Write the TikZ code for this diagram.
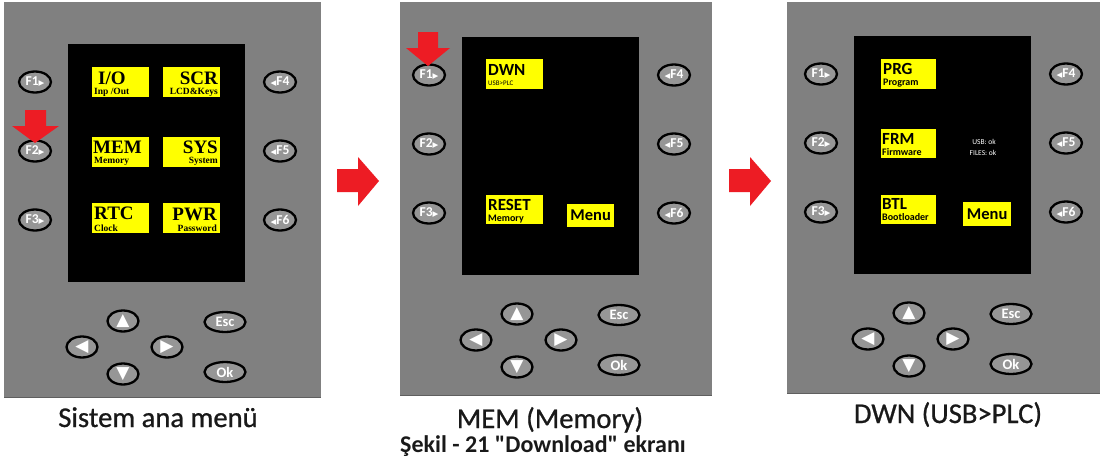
\documentclass[tikz,border=0pt]{standalone}
\usepackage{fontspec}
\setmainfont{Carlito}
\newfontfamily\tnr{Liberation Serif}
\newfontfamily\dju{DejaVu Sans}
\newfontfamily\capfont[FakeBold=0.8]{Carlito}
\newfontfamily\capbfont[Ligatures=TeXOff]{Carlito}
\usetikzlibrary{shapes.geometric}
\definecolor{panelgray}{RGB}{128,128,128}
\definecolor{paneledge}{RGB}{95,95,95}
\definecolor{btnfill}{RGB}{150,150,150}
\definecolor{lcdyellow}{RGB}{255,255,0}
\definecolor{arrowred}{RGB}{237,28,36}
\definecolor{captext}{RGB}{25,25,25}
\newcommand\fsz[1]{\fontsize{#1}{#1}\selectfont}
\newcommand\rtri{{\dju\fsz{7.5}▶}}
\newcommand\ltri{{\dju\fsz{7.5}◀}}
\newcommand\devpanel[3]{%
\begin{scope}[shift={(#2,#3)}]
\node[screen] (#1scr) at (68,44) {};
\node[fbtn] (#1F1) at (35,82) {F1\rtri};
\node[fbtn] (#1F2) at (35,151) {F2\rtri};
\node[fbtn] (#1F3) at (35,220) {F3\rtri};
\node[fbtn] (#1F4) at (280,82) {\ltri F4};
\node[fbtn] (#1F5) at (280,151) {\ltri F5};
\node[fbtn] (#1F6) at (280,220) {\ltri F6};
\node[navbtn] (#1up) at (123,321) {▲};
\node[navbtn] (#1left) at (82,347) {◀};
\node[navbtn] (#1right) at (167,347) {▶};
\node[navbtn] (#1down) at (123,374) {▼};
\node[kbtn] (#1esc) at (225,322) {Esc};
\node[kbtn] (#1ok) at (225,372) {Ok};
\end{scope}}
\begin{document}
\begin{tikzpicture}[x=1pt,y=-1pt,
  screen/.style={fill=black, draw=none, inner sep=0pt, anchor=north west, minimum width=177pt, minimum height=238pt},
  fbtn/.style={ellipse, draw=black, line width=2.3pt, fill=btnfill, minimum width=32pt, minimum height=21pt, inner sep=0pt, text=white, font=\bfseries\fsz{13.5}},
  navbtn/.style={ellipse, draw=black, line width=2.3pt, fill=btnfill, minimum width=31pt, minimum height=21pt, inner sep=0pt, text=white, font=\dju\fsz{17}},
  kbtn/.style={ellipse, draw=black, line width=2.3pt, fill=btnfill, minimum width=41pt, minimum height=20pt, inner sep=0pt, text=white, font=\bfseries\fsz{14.5}},
  ybx/.style={fill=lcdyellow, draw=none, inner sep=0pt, anchor=north west},
  sbig/.style={inner sep=0pt, text=black, font=\tnr\bfseries\fsz{19}},
  ssmall/.style={inner sep=0pt, text=black, font=\tnr\bfseries\fsz{9.5}},
  fbig/.style={inner sep=0pt, text=black, font=\bfseries\fsz{17}},
  fsmall/.style={inner sep=0pt, text=black, font=\bfseries\fsz{10}},
  ftiny/.style={inner sep=0pt, text=black, font=\fsz{7}},
  status/.style={inner sep=0pt, text=white, font=\fsz{7.5}},
  captxt/.style={inner sep=0pt, text=captext, font=\capfont\fsz{28.6}, anchor=base},
  captxtb/.style={inner sep=0pt, text=captext, font=\capbfont\bfseries\fsz{24}, anchor=base},
  redarrow/.style={fill=arrowred, draw=none}
]
\useasboundingbox (0,0) rectangle (1101,466);
\fill[white] (0,0) rectangle (1101,466);
% device bodies
\fill[panelgray] (4,2) rectangle (321,398);
\draw[paneledge, line width=1.5pt] (4,397.5) -- (321,397.5);
\fill[panelgray] (400,2) rectangle (712,396);
\draw[paneledge, line width=1.5pt] (400,395.5) -- (712,395.5);
\fill[panelgray] (787,2) rectangle (1100,394);
\draw[paneledge, line width=1.5pt] (787,393.5) -- (1100,393.5);
\devpanel{a}{0}{0}
\devpanel{b}{394}{-7}
\devpanel{c}{786}{-8}
% panel 1 screen
\node[ybx, minimum width=57pt, minimum height=30pt] (io) at (92,67) {};
\node[sbig, anchor=base west] (io-t) at (98,84) {I/O};
\node[ssmall, anchor=base west] (io-s) at (94,94) {Inp /Out};
\node[ybx, minimum width=57pt, minimum height=30pt] (scr) at (163,67) {};
\node[sbig, anchor=base east] (scr-t) at (218,84) {SCR};
\node[ssmall, anchor=base east] (scr-s) at (218,94) {LCD\&Keys};
\node[ybx, minimum width=57pt, minimum height=30pt] (mem) at (92,137) {};
\node[sbig, anchor=base west] (mem-t) at (93,153) {MEM};
\node[ssmall, anchor=base west] (mem-s) at (94,163) {Memory};
\node[ybx, minimum width=57pt, minimum height=30pt] (sys) at (163,137) {};
\node[sbig, anchor=base east] (sys-t) at (218,153) {SYS};
\node[ssmall, anchor=base east] (sys-s) at (218,163) {System};
\node[ybx, minimum width=57pt, minimum height=30pt] (rtc) at (92,203) {};
\node[sbig, anchor=base west] (rtc-t) at (94,219) {RTC};
\node[ssmall, anchor=base west] (rtc-s) at (94,231) {Clock};
\node[ybx, minimum width=57pt, minimum height=30pt] (pwr) at (163,203) {};
\node[sbig, anchor=base east] (pwr-t) at (217,220) {PWR};
\node[ssmall, anchor=base east] (pwr-s) at (217,231) {Password};
% panel 2 screen
\node[ybx, minimum width=57pt, minimum height=30pt] (dwn) at (486,59) {};
\node[fbig, anchor=base west] (dwn-t) at (488,75) {DWN};
\node[ftiny, anchor=base west] (dwn-s) at (488,85) {USB>PLC};
\node[ybx, minimum width=57pt, minimum height=29pt] (rst) at (486,195) {};
\node[fbig, anchor=base west] (rst-t) at (488,210) {RESET};
\node[fsmall, anchor=base west] (rst-s) at (488,221) {Memory};
\node[ybx, minimum width=47pt, minimum height=23pt, font=\bfseries\fsz{16.5}, text=black] (menub) at (567,204) {Menu};
% panel 3 screen
\node[ybx, minimum width=55pt, minimum height=30pt] (prg) at (881,59) {};
\node[fbig, anchor=base west] (prg-t) at (883,74) {PRG};
\node[fsmall, anchor=base west] (prg-s) at (883,85) {Program};
\node[ybx, minimum width=55pt, minimum height=29pt] (frm) at (881,129) {};
\node[fbig, anchor=base west] (frm-t) at (882,144) {FRM};
\node[fsmall, anchor=base west] (frm-s) at (882,155) {Firmware};
\node[ybx, minimum width=55pt, minimum height=29pt] (btl) at (881,195) {};
\node[fbig, anchor=base west] (btl-t) at (882,209) {BTL};
\node[fsmall, anchor=base west] (btl-s) at (882,220) {Bootloader};
\node[ybx, minimum width=48pt, minimum height=24pt, font=\bfseries\fsz{16.5}, text=black] (menuc) at (963,202) {Menu};
\node[status] (usb) at (984,142) {USB: ok};
\node[status] (files) at (983,153) {FILES: ok};
% red arrows
\fill[redarrow] (25,110) -- (46,110) -- (46,126) -- (59,126) -- (35,143) -- (12,126) -- (25,126) -- cycle;
\fill[redarrow] (418,32) -- (438,32) -- (438,48) -- (450,48) -- (428,66) -- (406,48) -- (418,48) -- cycle;
\fill[redarrow] (337,169) -- (358,169) -- (358,157) -- (379,181) -- (358,206) -- (358,192) -- (337,192) -- cycle;
\fill[redarrow] (729,169) -- (750,169) -- (750,157) -- (771,181) -- (750,206) -- (750,192) -- (729,192) -- cycle;
% captions
\node[captxt] (c1) at (158,427) {Sistem ana menü};
\node[captxt] (c2) at (550,428) {MEM (Memory)};
\node[captxt] (c3) at (948,423) {DWN (USB>PLC)};
\node[captxtb] (c4) at (543,452) {Şekil - 21 "Download" ekranı};
\end{tikzpicture}
\end{document}
